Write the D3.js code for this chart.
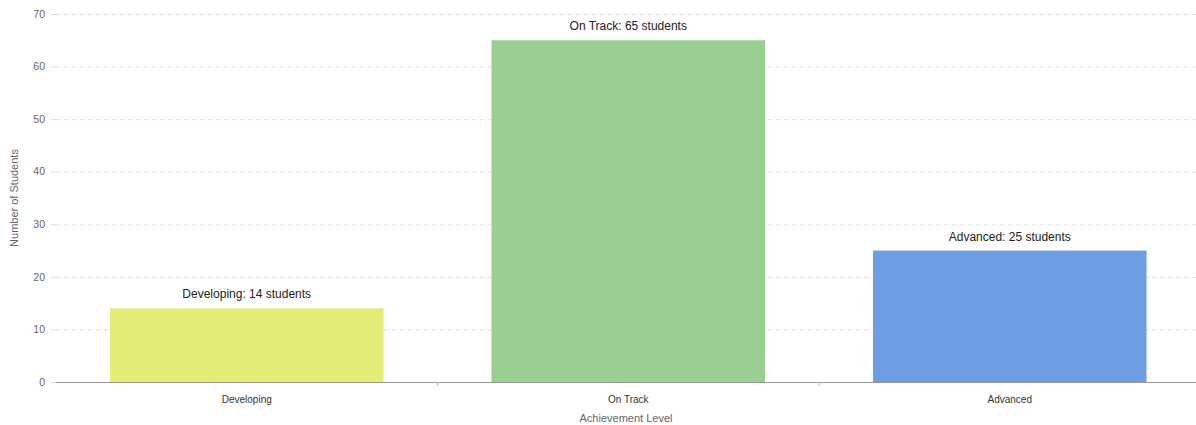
<!DOCTYPE html>
<html>
<head>
<meta charset="utf-8">
<script src="https://cdn.jsdelivr.net/npm/d3@7"></script>
<style>
  html, body { margin: 0; padding: 0; background: #fff; }
  svg { display: block; font-family: "Liberation Sans", Arial, sans-serif; }
</style>
</head>
<body>
<svg id="chart" width="1196" height="425"></svg>
<script>
const categories = ["Developing", "On Track", "Advanced"];
const values = [14, 65, 25];
const colors = ["#e3ec74", "#9bcf91", "#6d9de3"];
const yTicks = [0, 10, 20, 30, 40, 50, 60, 70];
const yTitle = "Number of Students";
const xTitle = "Achievement Level";

const svg = d3.select("#chart");
const mLeft = 56, mRight = 1196, mTop = 14, mBottom = 382;

const x = d3.scaleBand().domain(categories).range([mLeft, 1200.5]).paddingInner(0.283).paddingOuter(0.1415);
const y = d3.scaleLinear().domain([0, 70]).range([mBottom, mTop]);

// gridlines
svg.append("g").selectAll("line").data(yTicks.filter(d => d > 0)).join("line")
  .attr("x1", mLeft).attr("x2", mRight)
  .attr("y1", d => y(d) + 0.5).attr("y2", d => y(d) + 0.5)
  .attr("stroke", "#e2e2e2").attr("stroke-width", 1).attr("stroke-dasharray", "5,3");

// y tick labels and tiny ticks
const yg = svg.append("g");
yg.selectAll("text").data(yTicks).join("text")
  .attr("x", mLeft - 11).attr("y", d => y(d)).attr("dy", "0.35em")
  .attr("text-anchor", "end").attr("font-size", 10.5).attr("fill", "#666")
  .text(d => d);
yg.selectAll("line").data(yTicks).join("line")
  .attr("x1", mLeft - 5).attr("x2", mLeft).attr("y1", d => y(d) + 0.5).attr("y2", d => y(d) + 0.5)
  .attr("stroke", "#ddd");

// bars
svg.append("g").selectAll("rect").data(categories).join("rect")
  .attr("x", d => x(d)).attr("width", x.bandwidth())
  .attr("y", (d, i) => y(values[i])).attr("height", (d, i) => y(0) - y(values[i]))
  .attr("fill", (d, i) => colors[i]);

// x axis line
svg.append("line").attr("x1", mLeft).attr("x2", mRight).attr("y1", mBottom + 0.5).attr("y2", mBottom + 0.5)
  .attr("stroke", "#999").attr("stroke-width", 1);

// category boundary ticks
const step = x.step();
const bounds = categories.slice(1).map(c => x(c) - step * x.paddingInner() / 2);
svg.append("g").selectAll("line").data(bounds).join("line")
  .attr("x1", d => d).attr("x2", d => d).attr("y1", mBottom).attr("y2", mBottom + 4)
  .attr("stroke", "#bbb");

// x tick labels
svg.append("g").selectAll("text").data(categories).join("text")
  .attr("x", d => x(d) + x.bandwidth() / 2).attr("y", 403)
  .attr("text-anchor", "middle").attr("font-size", 10).attr("fill", "#333")
  .text(d => d);

// bar value labels
svg.append("g").selectAll("text").data(categories).join("text")
  .attr("x", d => x(d) + x.bandwidth() / 2)
  .attr("y", (d, i) => y(values[i]) - 10)
  .attr("text-anchor", "middle").attr("font-size", 12).attr("fill", "#222")
  .text((d, i) => `${d}: ${values[i]} students`);

// axis titles
svg.append("text").attr("x", 626).attr("y", 422)
  .attr("text-anchor", "middle").attr("font-size", 11).attr("fill", "#666").text(xTitle);
svg.append("text").attr("transform", `translate(18, ${(mTop + mBottom) / 2}) rotate(-90)`)
  .attr("text-anchor", "middle").attr("font-size", 11).attr("fill", "#666").text(yTitle);
</script>
</body>
</html>
